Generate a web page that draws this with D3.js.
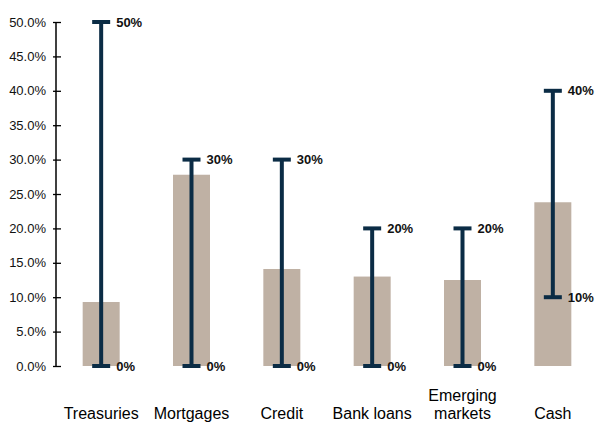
<!DOCTYPE html>
<html>
<head>
<meta charset="utf-8">
<script src="https://cdn.jsdelivr.net/npm/d3@7"></script>
<style>
  html, body { margin: 0; padding: 0; background: #fff; }
  svg { display: block; font-family: "Liberation Sans", Arial, sans-serif; }
</style>
</head>
<body>
<svg id="chart" width="595" height="422"></svg>
<script>
// Asset classes (multi-line labels split on "\n")
const categories = ["Treasuries", "Mortgages", "Credit", "Bank loans", "Emerging\nmarkets", "Cash"];
// Current allocation (%), drawn as bars
const allocation = [9.3, 27.8, 14.1, 13.0, 12.5, 23.8];
// Allowed range (%), drawn as error bars
const rangeLow  = [0, 0, 0, 0, 0, 10];
const rangeHigh = [50, 30, 30, 20, 20, 40];
// Y axis ticks (%)
const yTicks = [0, 5, 10, 15, 20, 25, 30, 35, 40, 45, 50];

const svg = d3.select("#chart");
const barColor = "#bfb1a4";
const rangeColor = "#0b2c45";

const y = d3.scaleLinear().domain([0, 50]).range([366, 22]);
const x = d3.scaleBand().domain(categories).range([56, 598]).paddingInner(0).paddingOuter(0);
const barW = 37;
const capW = 18;

// Y axis
const yAxis = d3.axisLeft(y)
  .tickValues(yTicks)
  .tickFormat(d => d.toFixed(1) + "%")
  .tickSize(3)
  .tickPadding(7);
const gy = svg.append("g").attr("transform", "translate(56,0)").call(yAxis);
gy.select(".domain").attr("stroke", "#000").attr("stroke-width", 1.5).attr("d", `M0,${y(50)}V${y(0)}`);
gy.selectAll(".tick line").attr("stroke", "#000").attr("stroke-width", 1.3).attr("x1", -3).attr("x2", 5);
gy.selectAll(".tick text").attr("font-size", 13).attr("fill", "#111")
  .attr("font-family", "'Liberation Sans', Arial, sans-serif");

const rows = categories.map((c, i) => ({ c, v: allocation[i], lo: rangeLow[i], hi: rangeHigh[i] }));
const cx = d => x(d.c) + x.bandwidth() / 2;

// Bars
svg.append("g").selectAll("rect").data(rows).join("rect")
  .attr("x", d => cx(d) - barW / 2)
  .attr("width", barW)
  .attr("y", d => y(d.v))
  .attr("height", d => y(0) - y(d.v))
  .attr("fill", barColor);

// Range whiskers
const g = svg.append("g");
g.selectAll("line.stem").data(rows).join("line").attr("class", "stem")
  .attr("x1", cx).attr("x2", cx)
  .attr("y1", d => y(d.hi)).attr("y2", d => y(d.lo))
  .attr("stroke", rangeColor).attr("stroke-width", 4);
["hi", "lo"].forEach(k => {
  g.selectAll("line.cap-" + k).data(rows).join("line").attr("class", "cap-" + k)
    .attr("x1", d => cx(d) - capW / 2).attr("x2", d => cx(d) + capW / 2)
    .attr("y1", d => y(d[k])).attr("y2", d => y(d[k]))
    .attr("stroke", rangeColor).attr("stroke-width", 4);
  g.selectAll("text.lbl-" + k).data(rows).join("text").attr("class", "lbl-" + k)
    .attr("x", d => cx(d) + 15)
    .attr("y", d => y(d[k]))
    .attr("dy", "0.36em")
    .attr("font-size", 13).attr("font-weight", "bold").attr("fill", "#111")
    .text(d => d[k] + "%");
});

// Category labels, bottom-aligned
const xl = svg.append("g");
rows.forEach(d => {
  const lines = d.c.split("\n");
  lines.forEach((t, j) => {
    xl.append("text")
      .attr("x", cx(d))
      .attr("y", 419 - (lines.length - 1 - j) * 18)
      .attr("text-anchor", "middle")
      .attr("font-size", 16).attr("fill", "#000")
      .text(t);
  });
});
</script>
</body>
</html>
